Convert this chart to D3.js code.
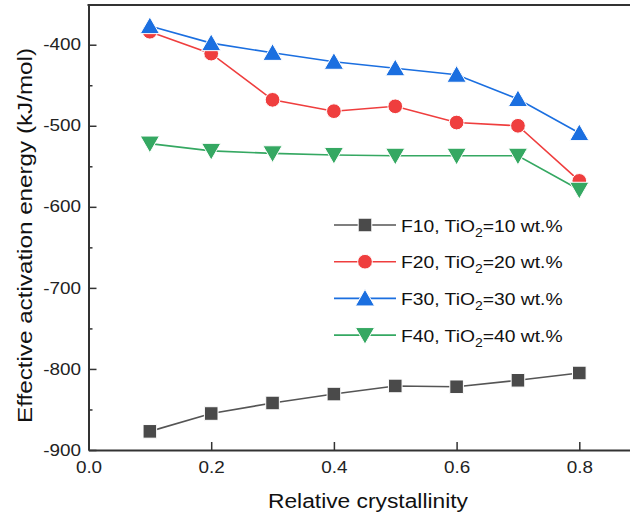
<!DOCTYPE html>
<html><head><meta charset="utf-8">
<script src="https://cdn.jsdelivr.net/npm/d3@7"></script>
<style>body{margin:0;background:#fff}svg{display:block}text{font-family:"Liberation Sans",Arial,sans-serif}</style>
</head><body>
<script>
const xValues = [0.1,0.2,0.3,0.4,0.5,0.6,0.7,0.8];
const f10 = [-877,-855,-842,-831,-821,-822,-814,-805];
const f20 = [-384,-411,-468,-482,-476,-496,-500,-568];
const f30 = [-377,-398,-410,-421,-429,-437,-467,-509];
const f40 = [-522,-531,-534,-536,-537,-537,-537,-579];
const seriesNames = ["F10","F20","F30","F40"];
const seriesPct = ["10","20","30","40"];
const xTicks = [0.0,0.2,0.4,0.6,0.8];
const yTicks = [-900,-800,-700,-600,-500,-400];

const W=630,H=518;
const svg=d3.select("body").append("svg").attr("width",W).attr("height",H);
const L=88.5, T=5, B=450;
const x=d3.scaleLinear().domain([0,0.9]).range([L, L+613.5*0.9]);
const y=d3.scaleLinear().domain([-900,-351]).range([B,T]);
const axisCol="#333";
const STRETCH=1.18;

const series=[
 {name:seriesNames[0],pct:seriesPct[0],vals:f10,color:"#4a4a4a",line:"#555",sym:d3.symbolSquare,size:185,rot:0},
 {name:seriesNames[1],pct:seriesPct[1],vals:f20,color:"#ef3e3e",line:"#ef3e3e",sym:d3.symbolCircle,size:170,rot:0},
 {name:seriesNames[2],pct:seriesPct[2],vals:f30,color:"#1b6fe0",line:"#1b6fe0",sym:d3.symbolTriangle,size:160,rot:0},
 {name:seriesNames[3],pct:seriesPct[3],vals:f40,color:"#35a862",line:"#35a862",sym:d3.symbolTriangle,size:160,rot:180}
];

const g=svg.append("g");
const line=d3.line().x((d,i)=>x(xValues[i])).y(d=>y(d));
series.forEach(s=>{
  g.append("path").attr("d",line(s.vals)).attr("fill","none").attr("stroke",s.line).attr("stroke-width",1.6);
  g.selectAll(null).data(s.vals).enter().append("path")
   .attr("d",d3.symbol().type(s.sym).size(s.size))
   .attr("transform",(d,i)=>`translate(${x(xValues[i])},${y(d)+(s.sym===d3.symbolTriangle?(s.rot?-2:2):0)}) rotate(${s.rot})`)
   .attr("fill",s.color).attr("stroke","#fff").attr("stroke-width",1);
});

// axes
const xAxis=svg.append("g").attr("transform",`translate(0,${B})`)
 .call(d3.axisBottom(x).tickValues(xTicks).tickFormat(d3.format(".1f")).tickSizeInner(-8).tickSizeOuter(0).tickPadding(11.5));
const yAxis=svg.append("g").attr("transform",`translate(${L},0)`)
 .call(d3.axisLeft(y).tickValues(yTicks).tickFormat(d=>d).tickSizeInner(-8).tickSizeOuter(0).tickPadding(7.5));
svg.append("g").attr("transform",`translate(${L},0)`)
 .call(d3.axisLeft(y).tickValues(d3.range(-850,-350,100)).tickFormat("").tickSizeInner(-4).tickSizeOuter(0))
 .select(".domain").remove();
[xAxis,yAxis].forEach(a=>{
  a.select(".domain").attr("stroke",axisCol).attr("stroke-width",2);
  a.selectAll(".tick text").attr("font-size",16).attr("fill","#222")
   .each(function(){ const w=this.getComputedTextLength(); d3.select(this).attr("textLength",w*STRETCH).attr("lengthAdjust","spacingAndGlyphs"); });
});
svg.selectAll(".tick line").attr("stroke",axisCol).attr("stroke-width",1.5);
// top border
svg.append("line").attr("x1",L-1).attr("x2",W).attr("y1",T).attr("y2",T).attr("stroke",axisCol).attr("stroke-width",2);

// titles
svg.append("text").attr("x",368).attr("y",508).attr("text-anchor","middle").attr("font-size",19.5)
  .attr("textLength",200).attr("lengthAdjust","spacingAndGlyphs").attr("fill","#111").text("Relative crystallinity");
svg.append("text").attr("transform","translate(32,235.5) rotate(-90)").attr("text-anchor","middle").attr("font-size",21)
  .attr("textLength",375).attr("lengthAdjust","spacingAndGlyphs").attr("fill","#111").text("Effective activation energy (kJ/mol)");

// legend
const lg=svg.append("g");
const ly0=225, ldy=36.7;
series.forEach((s,i)=>{
  const yy=ly0+i*ldy;
  lg.append("line").attr("x1",334).attr("x2",396).attr("y1",yy).attr("y2",yy).attr("stroke",s.line).attr("stroke-width",1.6);
  lg.append("path").attr("d",d3.symbol().type(s.sym).size(s.size))
    .attr("transform",`translate(365,${yy+(s.sym===d3.symbolTriangle?(s.rot?-2:2):0)}) rotate(${s.rot})`)
    .attr("fill",s.color).attr("stroke","#fff").attr("stroke-width",1);
  const t=lg.append("g").attr("transform",`translate(401,${yy+6.5}) scale(1.17,1)`)
    .append("text").attr("x",0).attr("y",0).attr("font-size",16.5).attr("fill","#111");
  t.append("tspan").text(`${s.name}, TiO`);
  t.append("tspan").attr("font-size",12).attr("dy",5).text("2");
  t.append("tspan").attr("dy",-5).text(`=${s.pct} wt.%`);
});
</script>
</body></html>
